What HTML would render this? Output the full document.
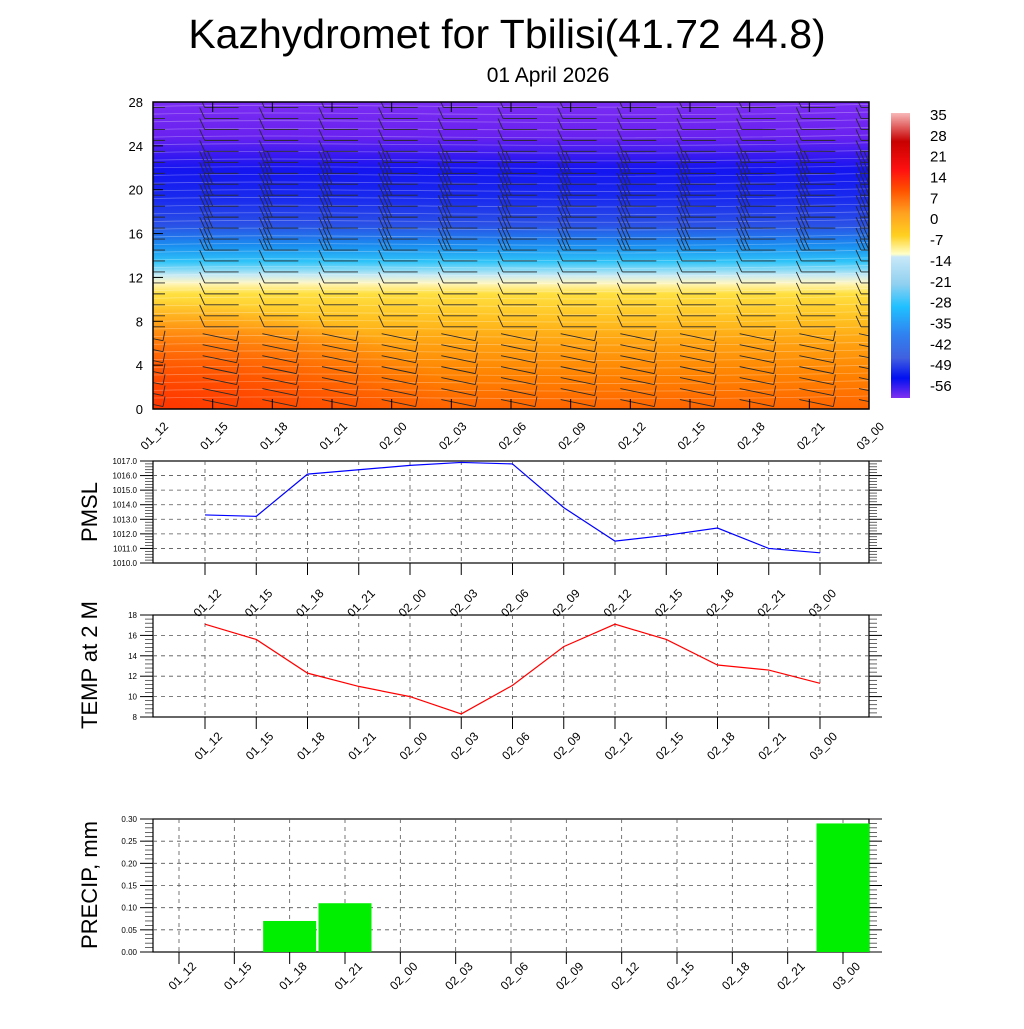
<!DOCTYPE html>
<html><head><meta charset="utf-8"><style>
body{margin:0;background:#fff}
svg text{font-family:"Liberation Sans",sans-serif}
</style></head><body>
<svg id="chart" width="1024" height="1024" viewBox="0 0 1024 1024" xmlns="http://www.w3.org/2000/svg">
<defs>
<clipPath id="fieldclip"><rect x="153" y="102" width="716" height="307"/></clipPath>
<linearGradient id="field" x1="0" y1="0" x2="0" y2="1">
<stop offset="0" stop-color="#7a2cf2"/>
<stop offset="0.11" stop-color="#6a22f0"/>
<stop offset="0.22" stop-color="#1414f0"/>
<stop offset="0.32" stop-color="#1a2cee"/>
<stop offset="0.40" stop-color="#2a50e6"/>
<stop offset="0.47" stop-color="#1a90f0"/>
<stop offset="0.52" stop-color="#30c4f8"/>
<stop offset="0.565" stop-color="#c8eaf4"/>
<stop offset="0.59" stop-color="#fff6c0"/>
<stop offset="0.625" stop-color="#ffe040"/>
<stop offset="0.71" stop-color="#ffc020"/>
<stop offset="0.79" stop-color="#ffa010"/>
<stop offset="0.89" stop-color="#ff8200"/>
<stop offset="1" stop-color="#ff6400"/>
</linearGradient>
<radialGradient id="hot" cx="0" cy="1" r="1">
<stop offset="0" stop-color="#ff3000" stop-opacity="0.9"/>
<stop offset="1" stop-color="#ff3000" stop-opacity="0"/>
</radialGradient>
<linearGradient id="cbar" x1="0" y1="0" x2="0" y2="1">
<stop offset="0" stop-color="#f8b8b8"/>
<stop offset="0.1" stop-color="#c80000"/>
<stop offset="0.2" stop-color="#ff1010"/>
<stop offset="0.27" stop-color="#ff5000"/>
<stop offset="0.35" stop-color="#ffa020"/>
<stop offset="0.43" stop-color="#ffd020"/>
<stop offset="0.495" stop-color="#ffffc8"/>
<stop offset="0.505" stop-color="#c8e8f8"/>
<stop offset="0.6" stop-color="#90d0f0"/>
<stop offset="0.68" stop-color="#20c0ff"/>
<stop offset="0.78" stop-color="#3080f0"/>
<stop offset="0.86" stop-color="#4060e0"/>
<stop offset="0.93" stop-color="#0010f0"/>
<stop offset="1" stop-color="#8030f0"/>
</linearGradient>
</defs>
<text x="507" y="48" font-size="41" text-anchor="middle">Kazhydromet for Tbilisi(41.72 44.8)</text>
<text x="548" y="82" font-size="21" text-anchor="middle">01 April 2026</text>

<g>
<rect x="153" y="102" width="716" height="307" fill="url(#field)"/>
<rect x="153" y="300" width="300" height="109" fill="url(#hot)"/>
<g clip-path="url(#fieldclip)">
<g id="contours" stroke="#fff" stroke-opacity="0.3" stroke-width="0.8" fill="none"></g>
<g id="barbs" stroke="#2a2a2a" stroke-width="0.9" fill="none"></g>
</g>
<rect x="153" y="102" width="716" height="307" fill="none" stroke="#000" stroke-width="1.5"/>
<g id="topaxes"></g>
</g>

<g>
<rect x="891" y="113" width="19" height="285" fill="url(#cbar)"/>
<g id="cbarlabels"></g>
</g>

<g id="pmsl"></g>
<g id="temp"></g>
<g id="precip"></g>
</svg>
<script>
const ns='http://www.w3.org/2000/svg';
const times=['01_12','01_15','01_18','01_21','02_00','02_03','02_06','02_09','02_12','02_15','02_18','02_21','03_00'];
const pmslValues=[1013.3,1013.2,1016.1,1016.4,1016.7,1016.9,1016.8,1013.8,1011.5,1011.9,1012.4,1011.0,1010.7];
const pmslTicks=[1010,1011,1012,1013,1014,1015,1016,1017];
const tempValues=[17.1,15.6,12.3,11.0,10.0,8.3,11.1,14.9,17.1,15.6,13.1,12.6,11.3];
const tempTicks=[8,10,12,14,16,18];
const precipValues=[0,0,0.07,0.11,0,0,0,0,0,0,0,0,0.29];
const precipTicks=[0,0.05,0.10,0.15,0.20,0.25,0.30];
const heightTicks=[0,4,8,12,16,20,24,28];
const cbarLabels=[35,28,21,14,7,0,-7,-14,-21,-28,-35,-42,-49,-56];
const barbLevels=[0.5,1.5,2.5,3.5,4.5,5.5,6.5,7.5,8.5,9.5,10.5,11.5,12.5,13.5,14.5,15.5,16.5,17.5,18.5,19.5,20.5,21.5,22.5,23.5,24.5,25.5,26.5,27.5];

function el(tag,attrs,parent,txt){const e=document.createElementNS(ns,tag);for(const k in attrs)e.setAttribute(k,attrs[k]);if(txt!==undefined)e.textContent=txt;parent.appendChild(e);return e;}

const topAx=document.getElementById('topaxes');
const tx=i=>153+i*716/12;
const hy=h=>409-h*307/28;
heightTicks.forEach(h=>{
 const t=el('text',{x:143,y:hy(h)+5,'font-size':13,'text-anchor':'end'},topAx,String(h));
 
 
 el('line',{x1:153,x2:163,y1:hy(h),y2:hy(h),stroke:'#000'},topAx);
});
times.forEach((s,i)=>{
 const x=tx(i);
 el('line',{x1:x,x2:x,y1:409,y2:399,stroke:'#000'},topAx);
 el('line',{x1:x,x2:x,y1:102,y2:112,stroke:'#000'},topAx);
 const lx=x+16,ly=427;
 const t=el('text',{x:lx,y:ly,'font-size':12,'text-anchor':'end',transform:`rotate(-45 ${lx} ${ly})`},topAx,s);
 
 
});
const cg=document.getElementById('contours');
for(let h=1;h<28;h+=0.7){
 const y=hy(h);
 el('path',{d:`M153 ${y} C350 ${y-4} 550 ${y+5} 869 ${y-2}`},cg);
}
const bg=document.getElementById('barbs');
times.forEach((s,i)=>{
 const cx=tx(i)+(i==0?-10:4);
 barbLevels.forEach(h=>{
  const y=hy(h);
  const g=el('g',{},bg);
  
  
  if(h<7){
   el('line',{x1:cx-14,y1:y-4,x2:cx+20,y2:y+3},g);
   el('line',{x1:cx+20,y1:y+3,x2:cx+22,y2:y-7},g);
  } else {
   el('line',{x1:cx-12,y1:y,x2:cx+22,y2:y},g);
   const n=(h>14&&h<23)?3:1;
   for(let k=0;k<n;k++) el('line',{x1:cx-12+k*4,y1:y,x2:cx-17+k*4,y2:y-11},g);
  }
 });
});
const cb=document.getElementById('cbarlabels');
cbarLabels.forEach((v,i)=>{
 const t=el('text',{x:930,y:120+i*(271/13),'font-size':15},cb,String(v));
 
 
});

function panel(id,name,pTop,bot,ticks,fmt,title,titleY,xs,ldx,ldy){
 const g=document.getElementById(id);
 
 
 const lo=ticks[0],hi=ticks[ticks.length-1];
 const y=v=>bot-(v-lo)/(hi-lo)*(bot-pTop);
 el('rect',{x:153,y:pTop,width:716,height:bot-pTop,fill:'none',stroke:'#000','stroke-width':1.2},g);
 const nm=(ticks.length-1)*5;
 for(let k=0;k<=nm;k++){const yy=bot-k*(bot-pTop)/nm;el('line',{x1:145,x2:153,y1:yy,y2:yy,stroke:'#000','stroke-width':0.6},g);el('line',{x1:869,x2:877,y1:yy,y2:yy,stroke:'#000','stroke-width':0.6},g);}
 ticks.forEach(v=>{
  const yy=y(v);
  el('line',{x1:140,x2:153,y1:yy,y2:yy,stroke:'#000'},g);
  el('line',{x1:869,x2:882,y1:yy,y2:yy,stroke:'#000'},g);
  if(v!==lo&&v!==hi) el('line',{x1:153,x2:869,y1:yy,y2:yy,stroke:'#555','stroke-dasharray':'4 4','stroke-width':0.8},g);
  const t=el('text',{x:137,y:yy+3,'font-size':8,'text-anchor':'end'},g,fmt(v));
  
  
 });
 xs.forEach((x,i)=>{
  el('line',{x1:x,x2:x,y1:pTop,y2:bot,stroke:'#555','stroke-dasharray':'4 4','stroke-width':0.8},g);
  el('line',{x1:x,x2:x,y1:bot,y2:bot+12,stroke:'#000'},g);
  const lx=x+ldx,ly=bot+ldy;
  const t=el('text',{x:lx,y:ly,'font-size':12,'text-anchor':'end',transform:`rotate(-45 ${lx} ${ly})`},g,times[i]);
  
  
 });
 const tt=el('text',{x:97,y:titleY,'font-size':22,'text-anchor':'middle',transform:`rotate(-90 97 ${titleY})`},g,title);
 
 
 return {g,y};
}
const lxf=i=>205+i*(615/12);
const lxs=times.map((s,i)=>lxf(i));
const p=panel('pmsl','pmsl-panel',461,563,pmslTicks,v=>v.toFixed(1),'PMSL',512,lxs,17,31);
const pl=el('polyline',{points:pmslValues.map((v,i)=>lxf(i)+','+p.y(v)).join(' '),fill:'none',stroke:'#0000ff','stroke-width':1.2},p.g);



const t2=panel('temp','temperature-panel',615,717,tempTicks,v=>String(v),'TEMP at 2 M',665,lxs,18,20);
const tl=el('polyline',{points:tempValues.map((v,i)=>lxf(i)+','+t2.y(v)).join(' '),fill:'none',stroke:'#ff0000','stroke-width':1.2},t2.g);



const bx=i=>179+i*(664/12);
const pr=panel('precip','precip-panel',819,952,precipTicks,v=>v.toFixed(2),'PRECIP, mm',885,times.map((s,i)=>bx(i)),18,15);
precipValues.forEach((v,i)=>{
 if(v<=0)return;
 const r=el('rect',{x:bx(i)-26.5,y:pr.y(v),width:53,height:952-pr.y(v),fill:'#00ee00'},pr.g);
 
 
});
</script>
</body></html>
